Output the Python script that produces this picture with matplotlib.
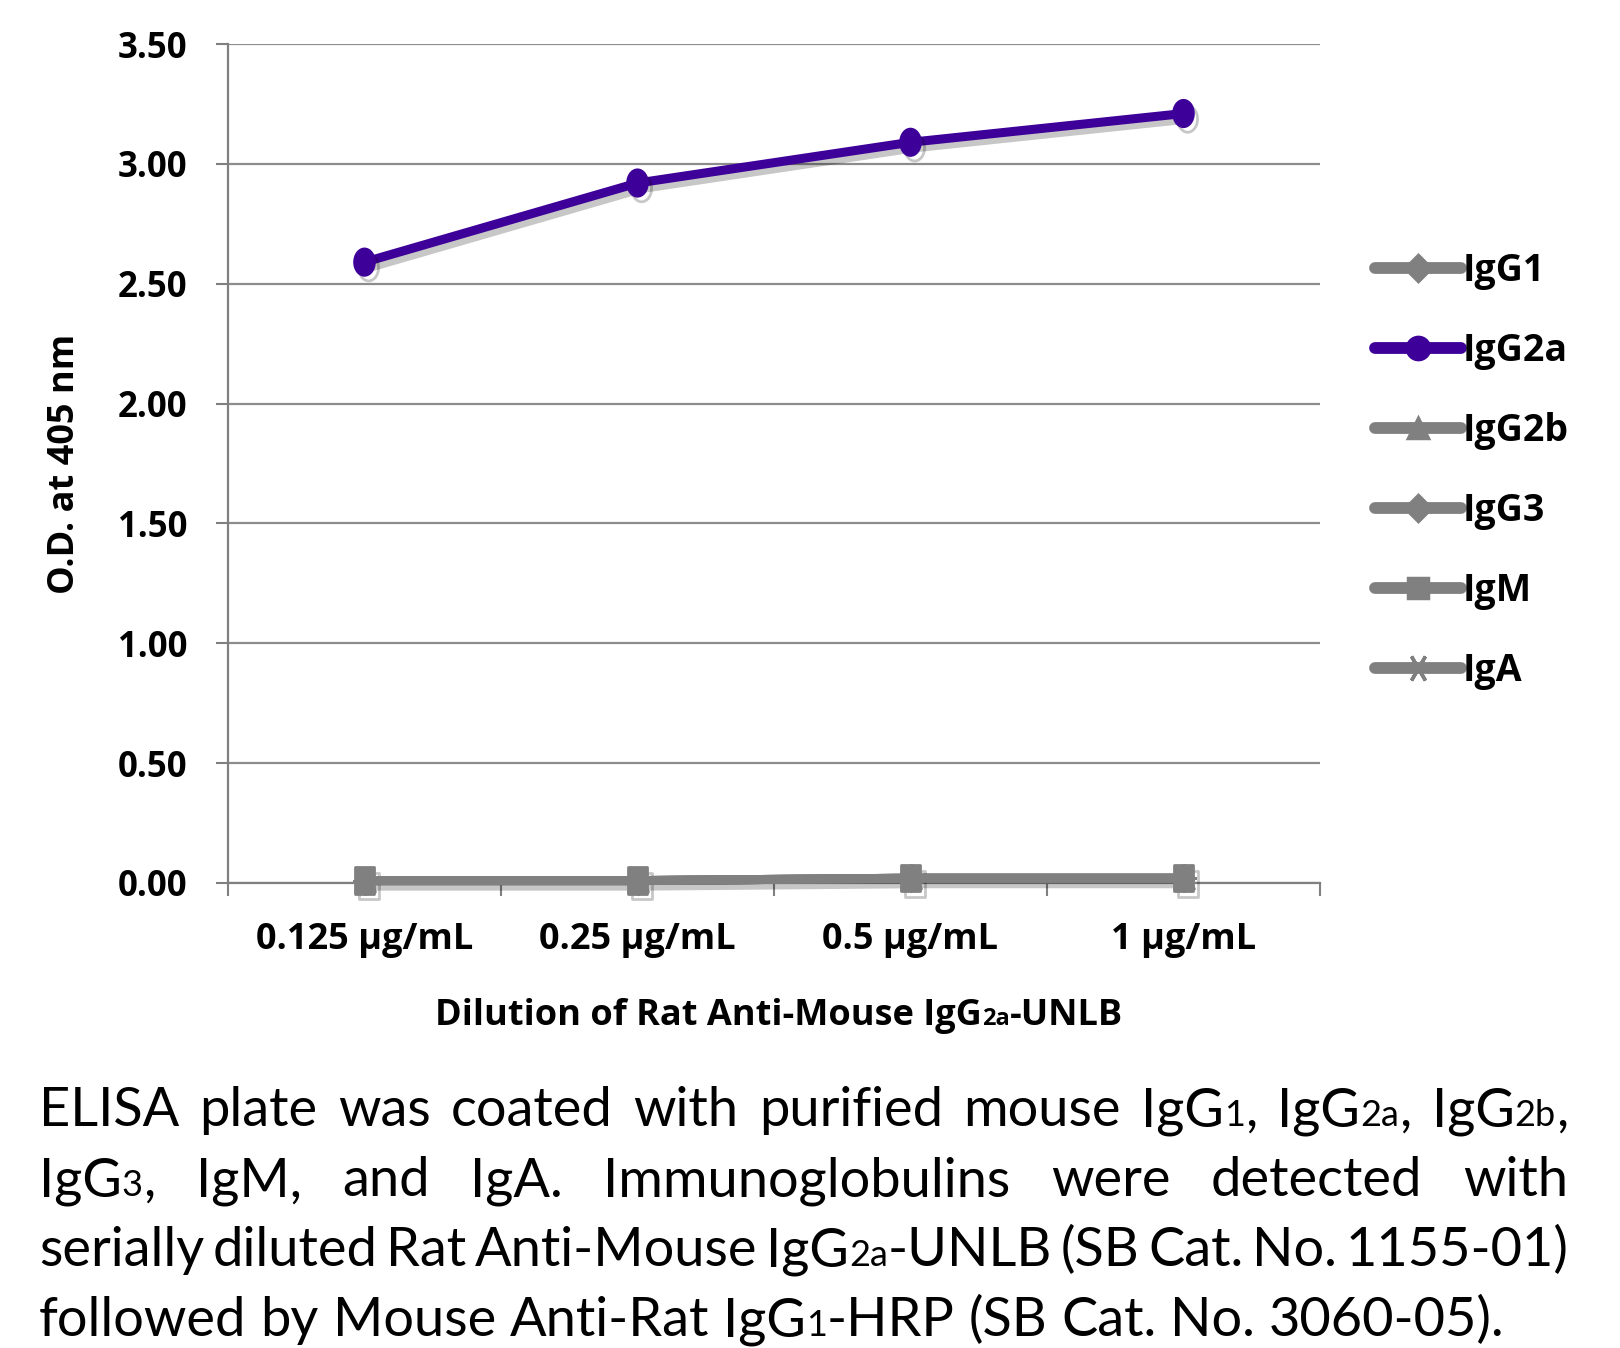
import matplotlib
matplotlib.use("Agg")
import matplotlib.pyplot as plt
import matplotlib.patheffects as pe
from matplotlib.lines import Line2D
from matplotlib.path import Path
from matplotlib.transforms import Affine2D

# -------------------- data --------------------
dilutions = ["0.125 µg/mL", "0.25 µg/mL", "0.5 µg/mL", "1 µg/mL"]
isotypes = ["IgG1", "IgG2a", "IgG2b", "IgG3", "IgM", "IgA"]
igg1 = [0.01, 0.01, 0.02, 0.02]
igg2a = [2.59, 2.92, 3.09, 3.21]
igg2b = [0.01, 0.01, 0.02, 0.02]
igg3 = [0.01, 0.01, 0.02, 0.02]
igm = [0.01, 0.01, 0.02, 0.02]
iga = [0.01, 0.01, 0.02, 0.02]
y_ticks = [0.0, 0.5, 1.0, 1.5, 2.0, 2.5, 3.0, 3.5]

W, H = 1620, 1348
LAB = "Open Sans"      # chart labels
CAPF = "Lato"          # caption
GRAY = "#808080"
PURPLE = "#3d0099"

plt.rcParams["font.family"] = [LAB, "DejaVu Sans"]

fig = plt.figure(figsize=(W / 100, H / 100), dpi=100)
ax = fig.add_axes([228 / W, 1 - 883 / H, 1092 / W, 839 / H])

# plot markers look squeezed sideways in the original, legend ones do not
squeeze = Affine2D().scale(0.75, 1.0)
m_circle = Path.unit_circle().transformed(squeeze)
m_diamond = Path([(0, 1), (1, 0), (0, -1), (-1, 0), (0, 1)], closed=True).transformed(squeeze)
m_tri = Path([(0, 1), (1, -0.8), (-1, -0.8), (0, 1)], closed=True).transformed(squeeze)
m_square = Path([(-1, -1), (1, -1), (1, 1), (-1, 1), (-1, -1)], closed=True).transformed(squeeze)
m_star = (6, 2, 90)

series = [igg1, igg2a, igg2b, igg3, igm, iga]
plot_markers = [m_diamond, m_circle, m_tri, m_diamond, m_square, m_star]
leg_markers = ["D", "o", "^", "D", "s", m_star]
colors = [GRAY, PURPLE, GRAY, GRAY, GRAY, GRAY]
plot_ms = [19, 19, 19, 19, 19, 18]
leg_ms = [13, 16, 15, 13, 15, 20]
has_shadow = [False, True, False, False, True, False]
xs = [i + 0.5 for i in range(len(dilutions))]
shadow = [pe.SimpleLineShadow(offset=(3, -4), shadow_color="k", alpha=0.22), pe.Normal()]

for vals, m, c, s, sh in zip(series, plot_markers, colors, plot_ms, has_shadow):
    ax.plot(xs, vals, color=c, lw=6.5, marker=m, ms=s, mec=c, mfc=c, mew=2,
            solid_capstyle="round", zorder=3, clip_on=False,
            path_effects=shadow if sh else None)

ax.set_xlim(0, len(dilutions))
ax.set_ylim(0, 3.5)
ax.set_yticks(y_ticks)
ax.set_yticklabels([f"{v:.2f}" for v in y_ticks], fontsize=25, fontweight="bold")
ax.set_xticks(range(len(dilutions) + 1))
ax.set_xticklabels([])
ax.set_xticks(xs, minor=True)
ax.set_xticklabels(dilutions, minor=True, fontsize=26, fontweight="bold")
ax.tick_params(axis="x", which="minor", length=0, pad=28)
ax.tick_params(axis="x", which="major", length=9, width=1.5, color=GRAY, direction="out")
ax.tick_params(axis="y", length=9, width=1.5, color=GRAY, direction="out", pad=20)
ax.grid(axis="y", color="#8c8c8c", lw=1.6)
ax.set_axisbelow(True)
for side in ["top", "right"]:
    ax.spines[side].set_visible(False)
for side in ["left", "bottom"]:
    ax.spines[side].set_color(GRAY)
    ax.spines[side].set_linewidth(1.6)

ax.set_ylabel("O.D. at 405 nm", fontsize=26, fontweight="bold")
ax.yaxis.set_label_coords(-0.133, 0.5)

# legend
handles = [Line2D([], [], color=c, lw=8.5, marker=m, ms=s, mec=c, mfc=c, mew=2.5,
                  solid_capstyle="round")
           for m, c, s in zip(leg_markers, colors, leg_ms)]
leg = fig.legend(handles, isotypes, loc="upper left", bbox_to_anchor=(1341 / W, 1 - 218 / H),
                 frameon=False, handlelength=2.3, handletextpad=0.05, labelspacing=1.12,
                 prop={"family": LAB, "weight": "bold", "size": 27})

fig.canvas.draw()
renderer = fig.canvas.get_renderer()


def measure(s, size, weight, family):
    t = fig.text(0, 0, s, fontsize=size, fontweight=weight, family=family)
    w = t.get_window_extent(renderer).width
    t.remove()
    return w


def draw_runs(x_px, base_px, runs, family):
    """Draw (text, size, weight) runs left to right on one baseline."""
    x = x_px
    for s, size, weight in runs:
        fig.text(x / W, 1 - base_px / H, s, fontsize=size, fontweight=weight,
                 family=family, va="baseline", ha="left")
        x += measure(s, size, weight, family)
    return x


# x-axis title with subscript
BIG, SMALL = 26, 17
xl_runs = [("Dilution of Rat Anti-Mouse IgG", BIG, "bold"), ("2a", SMALL, "bold"),
           ("-UNLB", BIG, "bold")]
xl_w = sum(measure(s, sz, wt, LAB) for s, sz, wt in xl_runs)
draw_runs(779 - xl_w / 2, 1025, xl_runs, LAB)

# caption, justified
CAP, SUB = 39, 26
cap_lines = [
    "ELISA plate was coated with purified mouse IgG_1, IgG_2a, IgG_2b,",
    "IgG_3, IgM, and IgA.  Immunoglobulins were detected with",
    "serially diluted Rat Anti-Mouse IgG_2a-UNLB (SB Cat. No. 1155-01)",
    "followed by Mouse Anti-Rat IgG_1-HRP (SB Cat. No. 3060-05).",
]


def word_runs(word):
    runs = []
    for i, part in enumerate(word.split("_")):
        if i == 0:
            runs.append((part, CAP, "normal"))
        else:
            j = 0
            while j < len(part) and part[j] in "0123456789ab":
                j += 1
            runs.append((part[:j], SUB, "normal"))
            if part[j:]:
                runs.append((part[j:], CAP, "normal"))
    return runs


left, right = 39, 1568
space = measure("a b", CAP, "normal", CAPF) - measure("ab", CAP, "normal", CAPF)
for k, line in enumerate(cap_lines):
    words = [word_runs(w) for w in line.split()]
    widths = [sum(measure(s, sz, wt, CAPF) for s, sz, wt in r) for r in words]
    base = 1126 + 70 * k
    if k < len(cap_lines) - 1:
        gap = (right - left - sum(widths)) / (len(words) - 1)
    else:
        gap = space
    x = left
    for r, w in zip(words, widths):
        draw_runs(x, base, r, CAPF)
        x += w + gap

fig.savefig("out.png", dpi=100)
